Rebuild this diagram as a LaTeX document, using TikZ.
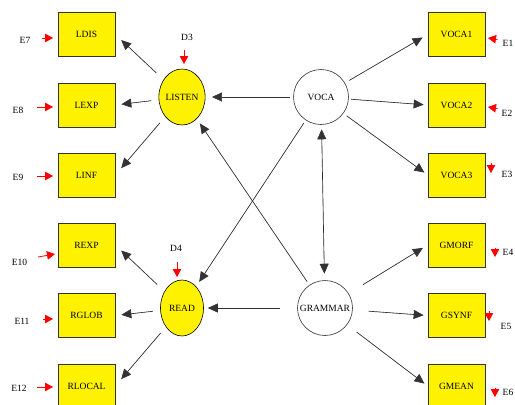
\documentclass[tikz,border=0pt]{standalone}
\usepackage{fontspec}
\setmainfont{Liberation Serif}
\usetikzlibrary{arrows.meta,shapes.geometric}
\begin{document}
\begin{tikzpicture}[x=1pt,y=-1pt,
 font=\fontsize{9.5}{11}\selectfont,
 obs/.style={draw=black!80,fill=yellow,minimum width=57pt,minimum height=44pt,inner sep=0pt,line width=0.7pt},
 latY/.style={ellipse,draw=black,fill=yellow,minimum width=43pt,minimum height=56pt,inner sep=0pt,line width=0.6pt},
 latW/.style={circle,draw=black!80,fill=white,minimum size=55pt,inner sep=0pt,line width=0.6pt},
 arr/.style={-{Triangle[length=10pt,width=9pt]},line width=0.65pt,draw=black!80,fill=black},
 darr/.style={{Triangle[length=10pt,width=9pt]}-{Triangle[length=10pt,width=9pt]},line width=0.65pt,draw=black!80,fill=black},
 err/.style={-{Triangle[length=8pt,width=8.5pt]},red,line width=0.8pt},
 lbl/.style={inner sep=0pt}]
\useasboundingbox (0,0) rectangle (515,405);
% observed boxes left
\node[obs] (LDIS) at (86.5,34.5) {LDIS};
\node[obs] (LEXP) at (86.5,105) {LEXP};
\node[obs] (LINF) at (86.5,175) {LINF};
\node[obs] (REXP) at (86.5,245) {REXP};
\node[obs] (RGLOB) at (86.5,315.5) {RGLOB};
\node[obs] (RLOCAL) at (86.5,386) {RLOCAL};
% observed boxes right
\node[obs] (VOCA1) at (456.5,34.5) {VOCA1};
\node[obs] (VOCA2) at (456.5,105) {VOCA2};
\node[obs] (VOCA3) at (456.5,175) {VOCA3};
\node[obs] (GMORF) at (456.5,245) {GMORF};
\node[obs] (GSYNF) at (456.5,315.5) {GSYNF};
\node[obs] (GMEAN) at (456.5,386) {GMEAN};
% latent
\node[latY] (LISTEN) at (182,97) {LISTEN};
\node[latY] (READ) at (182,308) {READ};
\node[latW] (VOCA) at (321,97) {VOCA};
\node[latW] (GRAMMAR) at (325,308) {GRAMMAR};
% structural arrows
\draw[arr,shorten <=3.5pt,shorten >=6.5pt] (VOCA) -- (LISTEN);
\draw[arr,shorten <=17pt,shorten >=4pt] (GRAMMAR) -- (READ);
\draw[arr,shorten <=4pt,shorten >=5.5pt] (GRAMMAR) -- (LISTEN);
\draw[arr,shorten <=3.5pt,shorten >=5.5pt] (VOCA) -- (READ);
\draw[darr,shorten <=4.5pt,shorten >=6.5pt] (VOCA) -- (GRAMMAR);
% measurement arrows left
\draw[arr,shorten <=10pt,shorten >=8pt] (LISTEN) -- (LDIS.east);
\draw[arr,shorten <=7.5pt,shorten >=6pt] (LISTEN) -- (LEXP.east);
\draw[arr,shorten <=8pt,shorten >=9pt] (LISTEN) -- (LINF.east);
\draw[arr,shorten <=10pt,shorten >=8pt] (READ) -- (REXP.east);
\draw[arr,shorten <=7.5pt,shorten >=6pt] (READ) -- (RGLOB.east);
\draw[arr,shorten <=8pt,shorten >=9pt] (READ) -- (RLOCAL.east);
% measurement arrows right
\draw[arr,shorten <=5pt,shorten >=5.8pt] (VOCA) -- (VOCA1.west);
\draw[arr,shorten <=2.5pt,shorten >=4pt] (VOCA) -- (VOCA2.west);
\draw[arr,shorten <=4pt,shorten >=4pt] (VOCA) -- (VOCA3.west);
\draw[arr,shorten <=17pt,shorten >=5.5pt] (GRAMMAR) -- (GMORF.west);
\draw[arr,shorten <=16pt,shorten >=4pt] (GRAMMAR) -- (GSYNF.west);
\draw[arr,shorten <=12pt,shorten >=4pt] (GRAMMAR) -- (GMEAN.west);
% error labels
\node[lbl] (E7) at (25,40) {E7};
\node[lbl] (E8) at (18,110) {E8};
\node[lbl] (E9) at (18,177) {E9};
\node[lbl] (E10) at (19.5,262) {E10};
\node[lbl] (E11) at (22,321) {E11};
\node[lbl] (E12) at (19,388) {E12};
\node[lbl] (E1) at (508,43) {E1};
\node[lbl] (E2) at (507,113) {E2};
\node[lbl] (E3) at (507,174) {E3};
\node[lbl] (E4) at (508,252) {E4};
\node[lbl] (E5) at (506,326) {E5};
\node[lbl] (E6) at (508,392) {E6};
\node[lbl] (D3) at (187,37) {D3};
\node[lbl] (D4) at (176,248) {D4};
% error arrow ends
\coordinate (e7a) at (42,38);   \coordinate (e7b) at (53,38);
\coordinate (e8a) at (37,107);  \coordinate (e8b) at (53,107);
\coordinate (e9a) at (37,176);  \coordinate (e9b) at (53,176);
\coordinate (e10a) at (38,257); \coordinate (e10b) at (55,254);
\coordinate (e11a) at (43,319); \coordinate (e11b) at (53,319);
\coordinate (e12a) at (37,387); \coordinate (e12b) at (53,387);
\coordinate (e1a) at (497.5,39.5); \coordinate (e1b) at (488,38);
\coordinate (e2a) at (497.5,108.5); \coordinate (e2b) at (488,107);
\coordinate (e3a) at (491,163); \coordinate (e3b) at (491,173);
\coordinate (e4a) at (495,247.5); \coordinate (e4b) at (495,257);
\coordinate (e5a) at (489,310.5); \coordinate (e5b) at (489,321);
\coordinate (e6a) at (495,387.5); \coordinate (e6b) at (495,397);
\coordinate (d3a) at (184,50);  \coordinate (d3b) at (184,64);
\coordinate (d4a) at (177,262); \coordinate (d4b) at (177,277);
\foreach \a/\b in {e7a/e7b,e8a/e8b,e9a/e9b,e10a/e10b,e11a/e11b,e12a/e12b,e1a/e1b,e2a/e2b,e3a/e3b,e4a/e4b,e5a/e5b,e6a/e6b,d3a/d3b,d4a/d4b}
  \draw[err] (\a) -- (\b);
\end{tikzpicture}
\end{document}
